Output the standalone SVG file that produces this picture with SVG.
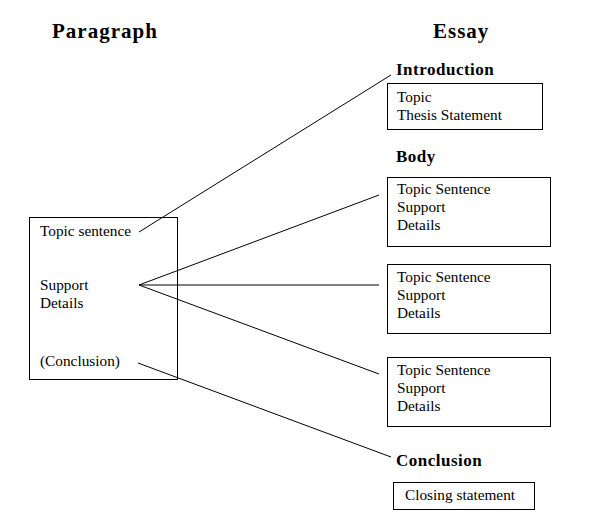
<svg xmlns="http://www.w3.org/2000/svg" width="607" height="513" viewBox="0 0 607 513">
<style>
.t{font-family:"Liberation Serif","Times New Roman",serif;font-size:15.3px;fill:#000}
.h{font-family:"Liberation Serif","Times New Roman",serif;font-weight:bold;font-size:21px;letter-spacing:1px;fill:#000}
.s{font-family:"Liberation Serif","Times New Roman",serif;font-weight:bold;font-size:17px;letter-spacing:0.5px;fill:#000}
.box{fill:#fff;stroke:#000;stroke-width:1}
.ln{stroke:#000;stroke-width:1;fill:none}
</style>
<rect width="607" height="513" fill="#fff"/>
<g id="headings">
<text class="h" x="52" y="38">Paragraph</text>
<text class="h" x="433" y="38">Essay</text>
</g>
<g id="paragraph">
<rect class="box" x="29.5" y="217.5" width="148" height="162"/>
<text class="t" x="40" y="236">Topic sentence</text>
<text class="t" x="40" y="290">Support</text>
<text class="t" x="40" y="308">Details</text>
<text class="t" x="40" y="366">(Conclusion)</text>
</g>
<g id="connectors">
<line class="ln" x1="139" y1="232" x2="391" y2="75"/>
<line class="ln" x1="139" y1="285" x2="379" y2="195"/>
<line class="ln" x1="139" y1="285" x2="379" y2="285"/>
<line class="ln" x1="139" y1="285" x2="379" y2="374"/>
<line class="ln" x1="138" y1="363" x2="391" y2="457"/>
</g>
<g id="introduction">
<text class="s" x="396" y="75">Introduction</text>
<rect class="box" x="387.5" y="83.5" width="155" height="46"/>
<text class="t" x="397" y="102">Topic</text>
<text class="t" x="397" y="120">Thesis Statement</text>
</g>
<g id="body-label">
<text class="s" x="396" y="162">Body</text>
</g>
<g id="body1">
<rect class="box" x="387.5" y="177.5" width="163" height="69"/>
<text class="t" x="397" y="194">Topic Sentence</text>
<text class="t" x="397" y="212">Support</text>
<text class="t" x="397" y="230">Details</text>
</g>
<g id="body2">
<rect class="box" x="387.5" y="264.5" width="163" height="69"/>
<text class="t" x="397" y="282">Topic Sentence</text>
<text class="t" x="397" y="300">Support</text>
<text class="t" x="397" y="318">Details</text>
</g>
<g id="body3">
<rect class="box" x="387.5" y="357.5" width="163" height="69"/>
<text class="t" x="397" y="375">Topic Sentence</text>
<text class="t" x="397" y="393">Support</text>
<text class="t" x="397" y="411">Details</text>
</g>
<g id="conclusion">
<text class="s" x="396" y="466">Conclusion</text>
<rect class="box" x="393.5" y="482.5" width="141" height="27"/>
<text class="t" x="405" y="500">Closing statement</text>
</g>
</svg>
